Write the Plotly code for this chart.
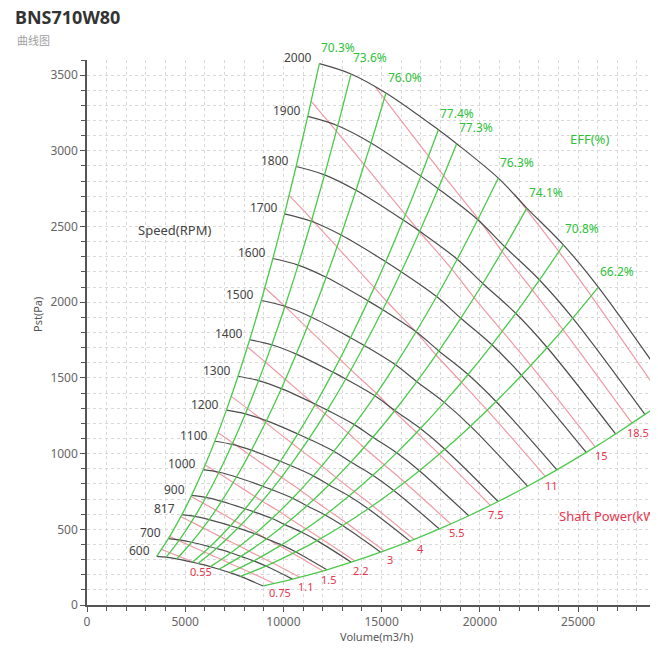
import plotly.graph_objects as go

# ---------------- data ----------------
SPEEDS = [600, 700, 817, 900, 1000, 1100, 1200, 1300, 1400, 1500, 1600, 1700, 1800, 1900, 2000]
EFF_LABELS = ["70.3%", "73.6%", "76.0%", "77.4%", "77.3%", "76.3%", "74.1%", "70.8%", "66.2%"]

# speed curves: volume (m3/h) and static pressure (Pa) at the efficiency-line nodes
Q_600 = [3549, 4032, 4566, 5367, 5646, 6282, 6717, 7275, 7809, 8970]
P_600 = [321.8, 315.7, 304.4, 282.5, 274.2, 253.8, 236.0, 214.1, 189.0, 125.6]
Q_700 = [4141, 4704, 5327, 6262, 6587, 7329, 7837, 8488, 9111, 10465]
P_700 = [438.1, 429.7, 414.3, 384.5, 373.3, 345.5, 321.2, 291.4, 257.3, 170.9]
Q_817 = [4833, 5490, 6217, 7308, 7688, 8554, 9146, 9906, 10633, 12214]
P_817 = [596.7, 585.4, 564.4, 523.8, 508.5, 470.6, 437.5, 397.0, 350.4, 232.8]
Q_900 = [5324, 6048, 6849, 8051, 8469, 9423, 10076, 10913, 11714, 13455]
P_900 = [724.1, 710.4, 684.9, 635.6, 617.0, 571.1, 531.0, 481.7, 425.3, 282.5]
Q_1000 = [5915, 6720, 7610, 8945, 9410, 10470, 11195, 12125, 13015, 14950]
P_1000 = [894.0, 877.0, 845.5, 784.8, 761.8, 705.0, 655.5, 594.8, 525.0, 348.8]
Q_1100 = [6507, 7392, 8371, 9840, 10351, 11517, 12315, 13338, 14317, 16445]
P_1100 = [1081.7, 1061.2, 1023.1, 949.5, 921.7, 853.1, 793.2, 719.6, 635.3, 422.0]
Q_1200 = [7098, 8064, 9132, 10734, 11292, 12564, 13434, 14550, 15618, 17940]
P_1200 = [1287.4, 1262.9, 1217.5, 1130.0, 1096.9, 1015.2, 943.9, 856.4, 756.0, 502.2]
Q_1300 = [7690, 8736, 9893, 11629, 12233, 13611, 14554, 15763, 16920, 19435]
P_1300 = [1510.9, 1482.1, 1428.9, 1326.2, 1287.4, 1191.5, 1107.8, 1005.1, 887.3, 589.4]
Q_1400 = [8281, 9408, 10654, 12523, 13174, 14658, 15673, 16975, 18221, 20930]
P_1400 = [1752.2, 1718.9, 1657.2, 1538.1, 1493.0, 1381.8, 1284.8, 1165.7, 1029.0, 683.6]
Q_1500 = [8873, 10080, 11415, 13418, 14115, 15705, 16793, 18188, 19523, 22425]
P_1500 = [2011.5, 1973.3, 1902.4, 1765.7, 1713.9, 1586.3, 1474.9, 1338.2, 1181.3, 784.7]
Q_1600 = [9464, 10752, 12176, 14312, 15056, 16752, 17912, 19400, 20824, 23920]
P_1600 = [2288.6, 2245.1, 2164.5, 2009.0, 1950.1, 1804.8, 1678.1, 1522.6, 1344.0, 892.8]
Q_1700 = [10056, 11424, 12937, 15207, 15997, 17799, 19032, 20613, 22126, 25415]
P_1700 = [2583.7, 2534.5, 2443.5, 2267.9, 2201.5, 2037.5, 1894.4, 1718.8, 1517.3, 1007.9]
Q_1800 = [10647, 12096, 13698, 16101, 16938, 18846, 20151, 21825, 23427, 26910]
P_1800 = [2896.6, 2841.5, 2739.4, 2542.6, 2468.1, 2284.2, 2123.8, 1927.0, 1701.0, 1130.0]
Q_1900 = [11239, 12768, 14459, 16996, 17879, 19893, 21271, 23038, 24729, 28405]
P_1900 = [3227.3, 3166.0, 3052.3, 2832.9, 2749.9, 2545.1, 2366.4, 2147.0, 1895.3, 1259.0]
Q_2000 = [11830, 13440, 15220, 17890, 18820, 20940, 22390, 24250, 26030, 29900]
P_2000 = [3576, 3508, 3382, 3139, 3047, 2820, 2622, 2379, 2100, 1395]

# shaft power lines (kW)
POWER_LABELS = ["0.55", "0.75", "1.1", "1.5", "2.2", "3", "4", "5.5", "7.5", "11", "15", "18.5", "22"]
PWQ_0_55 = [3791, 4218, 4689, 5386, 5500]
PWP_0_55 = [367.1, 345.5, 321.0, 284.6, 278.5]
PWQ_0_75 = [4204, 4678, 5200, 5974, 6237, 6842, 7259, 7790, 8324, 9532]
PWP_0_75 = [451.5, 425.0, 394.7, 350.0, 334.6, 301.1, 275.6, 245.5, 214.7, 141.8]
PWQ_1_1 = [4776, 5315, 5908, 6787, 7086, 7774, 8248, 8850, 9457, 10830]
PWP_1_1 = [582.8, 548.6, 509.5, 451.7, 432.0, 388.7, 355.8, 316.9, 277.2, 183.0]
PWQ_1_5 = [5296, 5894, 6551, 7526, 7858, 8620, 9146, 9814, 10487, 12009]
PWP_1_5 = [716.7, 674.5, 626.6, 555.5, 531.2, 477.9, 437.5, 389.6, 340.8, 225.1]
PWQ_2_2 = [6017, 6696, 7443, 8551, 8928, 9794, 10391, 11150, 11915, 13645]
PWP_2_2 = [925.2, 870.8, 808.8, 717.1, 685.7, 616.9, 564.8, 503.0, 440.0, 290.5]
PWQ_3 = [6672, 7425, 8254, 9482, 9900, 10861, 11523, 12365, 13212, 15131]
PWP_3 = [1137.7, 1070.8, 994.6, 881.8, 843.2, 758.6, 694.5, 618.5, 541.1, 357.3]
PWQ_4 = [7344, 8173, 9085, 10436, 10897, 11954, 12683, 13609, 14543, 16654]
PWP_4 = [1378.2, 1297.1, 1204.9, 1068.2, 1021.4, 919.0, 841.3, 749.3, 655.5, 432.8]
PWQ_5_5 = [8167, 9088, 10102, 11605, 12117, 13293, 14103, 15134, 16172, 18519]
PWP_5_5 = [1704.2, 1604.0, 1489.9, 1320.9, 1263.1, 1136.4, 1040.3, 926.5, 810.5, 535.2]
PWQ_7_5 = [9056, 10078, 11202, 12869, 13436, 14741, 15639, 16781, 17932, 20536]
PWP_7_5 = [2095.5, 1972.3, 1832.0, 1624.2, 1553.1, 1397.4, 1279.2, 1139.3, 996.6, 658.0]
PWQ_11 = [10289, 11450, 12728, 14622, 15266, 16748, 17769, 19067, 20375, 23333]
PWP_11 = [2705.2, 2546.1, 2365.1, 2096.8, 2005.0, 1804.0, 1651.4, 1470.7, 1286.6, 849.5]
PWQ_15 = [11410, 12697, 14114, 16214, 16929, 18572, 19704, 21144, 22594, 25874]
PWP_15 = [3326.5, 3130.9, 2908.2, 2578.3, 2465.5, 2218.3, 2030.6, 1808.5, 1582.1, 1044.6]
PWQ_18_5 = [14679, 15136, 17388, 18155, 19917, 21131, 22675, 24230, 27747]
PWP_18_5 = [3422, 3344.7, 2965.3, 2835.5, 2551.2, 2335.4, 2080.0, 1819.5, 1201.4]
PWQ_22 = [21750, 24022, 25670, 29397]
PWP_22 = [2715, 2334.6, 2042.3, 1348.4]

X_TICK_LABELS = ["0", "5000", "10000", "15000", "20000", "25000", "30000"]
Y_TICK_LABELS = ["0", "500", "1000", "1500", "2000", "2500", "3000", "3500"]

# ---------------- assembly ----------------
SPEED_Q = [Q_600, Q_700, Q_817, Q_900, Q_1000, Q_1100, Q_1200, Q_1300, Q_1400,
           Q_1500, Q_1600, Q_1700, Q_1800, Q_1900, Q_2000]
SPEED_P = [P_600, P_700, P_817, P_900, P_1000, P_1100, P_1200, P_1300, P_1400,
           P_1500, P_1600, P_1700, P_1800, P_1900, P_2000]
POWER_Q = [PWQ_0_55, PWQ_0_75, PWQ_1_1, PWQ_1_5, PWQ_2_2, PWQ_3, PWQ_4, PWQ_5_5,
           PWQ_7_5, PWQ_11, PWQ_15, PWQ_18_5, PWQ_22]
POWER_P = [PWP_0_55, PWP_0_75, PWP_1_1, PWP_1_5, PWP_2_2, PWP_3, PWP_4, PWP_5_5,
           PWP_7_5, PWP_11, PWP_15, PWP_18_5, PWP_22]

# page body adds an 8px margin, so the figure is sized/placed to compensate
OFF = 8
W, H = 658 - OFF, 650 - OFF
PLOT_L, PLOT_T, PLOT_B = 87, 60, 605          # page pixels of plot area edges
ML, MR, MT, MB = PLOT_L - OFF, 0, PLOT_T - OFF, 650 - PLOT_B
XMAX, YMAX = 29070, 3600
PW, PH = W - ML - MR, H - MT - MB

FONT = "Noto Sans, Noto Sans CJK SC, sans-serif"
GRAY = "#555555"
GREEN_LINE = "#4cc94c"
GREEN_TXT = "#2fc13a"
PINK_LINE = "#f09aa5"
RED_TXT = "#e8364f"


def paper(px, py):
    """page pixel -> paper coordinates"""
    return (px - PLOT_L) / PW, (PLOT_B - py) / PH


fig = go.Figure()

# power lines
for q, p in zip(POWER_Q, POWER_P):
    fig.add_trace(go.Scatter(x=q, y=p, mode="lines", line=dict(color=PINK_LINE, width=1.2, shape="spline"),
                             hoverinfo="skip", showlegend=False))

# speed curves
for q, p in zip(SPEED_Q, SPEED_P):
    fig.add_trace(go.Scatter(x=q, y=p, mode="lines", line=dict(color="#4d4d4d", width=1.2, shape="spline"),
                             hoverinfo="skip", showlegend=False))

# efficiency lines (same node on each speed curve) + right boundary
n_nodes = len(Q_2000)
for i in range(n_nodes):
    fig.add_trace(go.Scatter(x=[q[i] for q in SPEED_Q], y=[p[i] for p in SPEED_P], mode="lines",
                             line=dict(color=GREEN_LINE, width=1.3, shape="spline"),
                             hoverinfo="skip", showlegend=False))

ann = []
# speed labels
for s, q, p in zip(SPEEDS, SPEED_Q, SPEED_P):
    ann.append(dict(x=q[0], y=p[0], xref="x", yref="y", text=str(s), showarrow=False,
                    xanchor="right", yanchor="middle", xshift=-5, yshift=6,
                    font=dict(size=12, color="#444444", family=FONT)))
# efficiency labels
for lab, q, p in zip(EFF_LABELS, Q_2000, P_2000):
    ann.append(dict(x=q, y=p, xref="x", yref="y", text=lab, showarrow=False,
                    xanchor="center", yanchor="middle", xshift=19, yshift=16,
                    font=dict(size=12, color=GREEN_TXT, family=FONT)))
# power labels
for lab, q, p in zip(POWER_LABELS, POWER_Q, POWER_P):
    if float(lab) > 20:
        continue
    ann.append(dict(x=q[-1], y=p[-1], xref="x", yref="y", text=lab, showarrow=False,
                    xanchor="center", yanchor="middle", xshift=6, yshift=-9,
                    font=dict(size=11, color=RED_TXT, family=FONT)))

# legend-like texts
x, y = paper(174, 230)
ann.append(dict(x=x, y=y, xref="paper", yref="paper", text="Speed(RPM)", showarrow=False,
                xanchor="center", yanchor="middle", font=dict(size=13, color="#444444", family=FONT)))
x, y = paper(589, 139)
ann.append(dict(x=x, y=y, xref="paper", yref="paper", text="EFF(%)", showarrow=False,
                xanchor="center", yanchor="middle", font=dict(size=13, color=GREEN_TXT, family=FONT)))
x, y = paper(557, 516)
ann.append(dict(x=x, y=y, xref="paper", yref="paper", text="Shaft Power(kW)", showarrow=False,
                xanchor="left", yanchor="middle", font=dict(size=13, color=RED_TXT, family=FONT)))
# axis titles
x, y = paper(37, 315)
ann.append(dict(x=x, y=y, xref="paper", yref="paper", text="Pst(Pa)", showarrow=False, textangle=-90,
                xanchor="center", yanchor="middle", font=dict(size=11, color="#555555", family=FONT)))
x, y = paper(376, 636)
ann.append(dict(x=x, y=y, xref="paper", yref="paper", text="Volume(m3/h)", showarrow=False,
                xanchor="center", yanchor="middle", font=dict(size=11, color="#555555", family=FONT)))
# partially visible last x tick label
ann.append(dict(x=30000 / XMAX, y=0, xref="paper", yref="paper", text=X_TICK_LABELS[-1], showarrow=False,
                xanchor="center", yanchor="middle", xshift=-5, yshift=-13,
                font=dict(size=12, color="#666666", family=FONT)))
# subtitle
x, y = paper(15, 41)
ann.append(dict(x=x, y=y, xref="paper", yref="paper", text="曲线图", showarrow=False,
                xanchor="left", yanchor="middle", font=dict(size=11, color="#a0a0a0", family=FONT)))

grid = dict(showgrid=True, gridcolor="#d8d8d8", gridwidth=1, griddash="dot")
fig.update_layout(
    width=W, height=H,
    margin=dict(l=ML, r=MR, t=MT, b=MB, autoexpand=False),
    paper_bgcolor="white", plot_bgcolor="white",
    font=dict(family=FONT, size=12, color="#666666"),
    title=dict(text="<b>BNS710W80</b>", x=(15 - OFF) / W, xanchor="left", y=1 - (18 - OFF) / H,
               yanchor="middle", xref="container", yref="container",
               font=dict(size=18, color="#333333", family=FONT)),
    annotations=ann,
    showlegend=False,
    xaxis=dict(range=[0, XMAX], tickmode="array",
               tickvals=[int(t) for t in X_TICK_LABELS], ticktext=X_TICK_LABELS,
               ticks="outside", ticklen=5, tickcolor=GRAY, showline=True, linecolor=GRAY, linewidth=1.5,
               zeroline=False, tickfont=dict(size=12, color="#666666"), automargin=False,
               minor=dict(dtick=1000, tick0=0, ticks="outside", ticklen=4, tickcolor=GRAY, **grid),
               fixedrange=True, **grid),
    yaxis=dict(range=[0, YMAX], tickmode="array",
               tickvals=[int(t) for t in Y_TICK_LABELS], ticktext=Y_TICK_LABELS,
               ticks="outside", ticklen=5, tickcolor=GRAY, showline=True, linecolor=GRAY, linewidth=1.5,
               zeroline=False, tickfont=dict(size=12, color="#666666"), automargin=False,
               minor=dict(dtick=100, tick0=0, ticks="outside", ticklen=4, tickcolor=GRAY, **grid),
               fixedrange=True, **grid),
)

fig.write_html("out.html")
